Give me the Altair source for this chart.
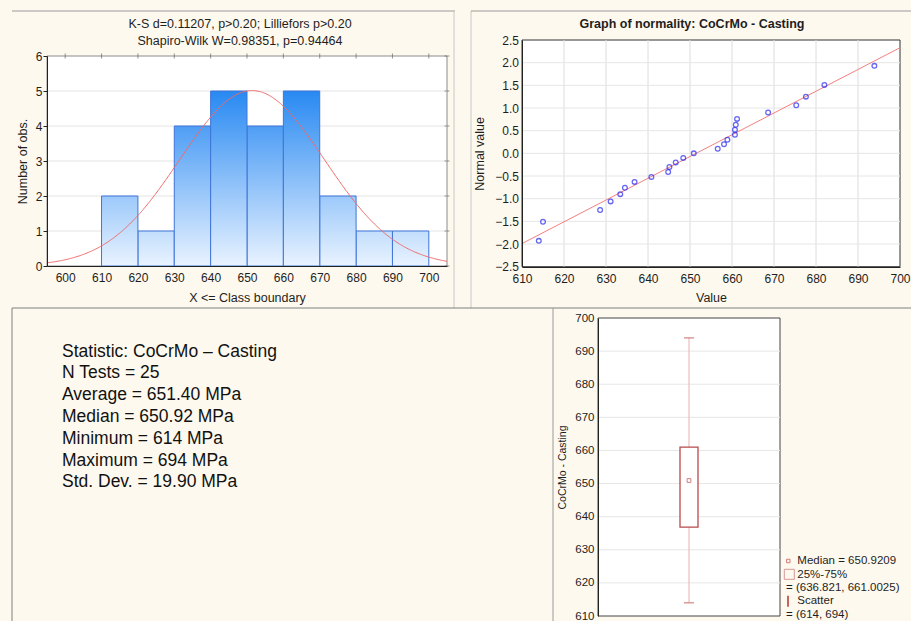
import altair as alt
import pandas as pd

FONT = "Liberation Sans"
INK = "#1e1e1e"
CREAM = "#FEF9EE"
PAGE_W, PAGE_H = 911, 621

# ---------------- data ----------------
bin_start = [610, 620, 630, 640, 650, 660, 670, 680, 690]
bin_end = [620, 630, 640, 650, 660, 670, 680, 690, 700]
bin_count = [2, 1, 4, 5, 4, 5, 2, 1, 1]
hist_x_ticks = [600, 610, 620, 630, 640, 650, 660, 670, 680, 690, 700]
hist_y_ticks = [0, 1, 2, 3, 4, 5, 6]
hist_title = ["K-S d=0.11207, p>0.20; Lilliefors p>0.20",
              "Shapiro-Wilk W=0.98351, p=0.94464"]
fit_mean = 651.40
fit_sd = 19.90
n_tests = 25
bin_width = 10

np_value = [614.0, 615.0, 628.6, 631.1, 633.4, 634.5, 636.8, 640.8, 644.8,
            645.1, 646.6, 648.4, 650.9, 656.6, 658.1, 658.9, 660.7, 660.7,
            660.9, 661.2, 668.6, 675.3, 677.6, 682.0, 693.9]
np_normal = [-1.93, -1.51, -1.25, -1.06, -0.90, -0.76, -0.63, -0.52, -0.41,
             -0.30, -0.20, -0.10, 0.0, 0.10, 0.20, 0.30, 0.41, 0.52,
             0.63, 0.76, 0.90, 1.06, 1.25, 1.51, 1.93]
np_line_x = [610, 700]
np_line_y = [-1.99, 2.33]
np_x_ticks = [610, 620, 630, 640, 650, 660, 670, 680, 690, 700]
np_y_ticks = [-2.5, -2.0, -1.5, -1.0, -0.5, 0.0, 0.5, 1.0, 1.5, 2.0, 2.5]
np_title = "Graph of normality: CoCrMo - Casting"

box_label = ["CoCrMo - Casting"]
box_median = [650.9209]
box_q1 = [636.821]
box_q3 = [661.0025]
box_min = [614]
box_max = [694]
box_y_ticks = [610, 620, 630, 640, 650, 660, 670, 680, 690, 700]

stats_lines = ["Statistic: CoCrMo \u2013 Casting", "N Tests = 25",
               "Average = 651.40 MPa", "Median = 650.92 MPa",
               "Minimum = 614 MPa", "Maximum = 694 MPa",
               "Std. Dev. = 19.90 MPa"]
legend_labels = ["Median = 650.9209", "25%-75%", "= (636.821, 661.0025)",
                 "Scatter", "= (614, 694)"]

# ---------------- layout (pixels on the page) ----------------
H_X, H_Y = (47, 447), (266, 56)        # histogram plot area
N_X, N_Y = (522, 900), (266.7, 40)     # normality plot area
B_X, B_Y = (598, 780), (616, 318)      # box plot area

one = pd.DataFrame({"k": [0]})


def prule(x, y, x2=None, y2=None, color="#9a9a9a"):
    enc = dict(x=alt.value(x), y=alt.value(y))
    if x2 is not None:
        enc["x2"] = alt.value(x2)
    if y2 is not None:
        enc["y2"] = alt.value(y2)
    return alt.Chart(one).mark_rule(color=color, strokeWidth=1).encode(**enc)


def ptext(t, x, y, size, weight="normal", align="center"):
    return alt.Chart(pd.DataFrame({"t": [t]})).mark_text(
        align=align, baseline="middle", font=FONT, fontSize=size,
        fontWeight=weight, color=INK
    ).encode(x=alt.value(x), y=alt.value(y), text="t:N")


def axis(**kw):
    base = dict(labelFont=FONT, titleFont=FONT, labelColor=INK, titleColor=INK,
                labelFontSize=12, titleFontSize=12.5, titleFontWeight="normal",
                domainColor="#222222", tickColor="#222222", grid=False,
                labelOverlap=False, labelFlush=False, labelBound=False, zindex=1)
    base.update(kw)
    return alt.Axis(**base)


# ---------------- histogram ----------------
hist_df = pd.DataFrame({"start": bin_start, "end": bin_end, "n": bin_count})
hx_scale = alt.Scale(domain=[595, 705], range=list(H_X), nice=False, zero=False)
hy_scale = alt.Scale(domain=[0, 6], range=list(H_Y), nice=False, zero=False)
hx_axis = axis(values=hist_x_ticks, title="X <= Class boundary", orient="bottom",
               offset=H_Y[0] - PAGE_H, ticks=False, labelPadding=6, titlePadding=8)
hy_axis = axis(values=hist_y_ticks, title="Number of obs.", orient="left",
               offset=-H_X[0], tickSize=4, labelPadding=1, titlePadding=6)


def hx(f=None, datum=None):
    if datum is not None:
        return alt.X(datum=datum, type="quantitative", scale=hx_scale, axis=hx_axis)
    return alt.X(f, scale=hx_scale, axis=hx_axis)


def hy(f=None, datum=None):
    if datum is not None:
        return alt.Y(datum=datum, type="quantitative", scale=hy_scale, axis=hy_axis)
    return alt.Y(f, scale=hy_scale, axis=hy_axis)


top_rgb = (40, 137, 242)
bot_rgb = (233, 243, 255)


def level_color(v):
    t = v / 5.0
    c = [round(b + (a - b) * t) for a, b in zip(top_rgb, bot_rgb)]
    return "#%02x%02x%02x" % tuple(c)


hist_bg = alt.Chart(one).mark_rect(fill="white", stroke="#8c8c8c", strokeWidth=1).encode(
    x=hx(datum=595), x2=alt.X2(datum=705), y=hy(datum=0), y2=alt.Y2(datum=6))
hist_grid = alt.Chart(pd.DataFrame({"t": hist_y_ticks[1:-1]})).mark_rule(
    color="#E4E4E4", strokeWidth=1).encode(
    x=hx(datum=595), x2=alt.X2(datum=705), y=hy("t:Q"))
hist_top_ticks = alt.Chart(pd.DataFrame({"t": hist_x_ticks})).mark_tick(
    orient="vertical", size=5, thickness=1, color="#666666").encode(
    x=hx("t:Q"), y=hy(datum=6))
hist_right_ticks = alt.Chart(pd.DataFrame({"t": hist_y_ticks})).mark_tick(
    orient="horizontal", size=5, thickness=1, color="#666666").encode(
    y=hy("t:Q"), x=hx(datum=705))

bar_layers = []
for h in sorted(set(bin_count)):
    grad = alt.Gradient(gradient="linear", x1=0, x2=0, y1=0, y2=1,
                        stops=[alt.GradientStop(color=level_color(h), offset=0),
                               alt.GradientStop(color=level_color(0), offset=1)])
    bar_layers.append(
        alt.Chart(hist_df).transform_filter(alt.datum.n == h)
        .mark_bar(fill=grad, stroke="#3f74d8", strokeWidth=1)
        .encode(x=hx("start:Q"), x2="end:Q", y=hy("n:Q"), y2=alt.Y2(datum=0))
    )

curve = (
    alt.Chart(alt.sequence(595, 705.01, 0.25, as_="xv"))
    .transform_calculate(
        yv=f"{n_tests * bin_width} / ({fit_sd} * sqrt(2 * PI)) * "
           f"exp(-0.5 * pow((datum.xv - {fit_mean}) / {fit_sd}, 2))")
    .mark_line(color="#F06A6A", strokeWidth=1)
    .encode(x=hx("xv:Q"), y=hy("yv:Q"))
)

hist = alt.layer(hist_bg, hist_grid, hist_top_ticks, hist_right_ticks,
                 *bar_layers, curve)

# ---------------- normal probability plot ----------------
nx_scale = alt.Scale(domain=[610, 700], range=list(N_X), nice=False, zero=False)
ny_scale = alt.Scale(domain=[-2.5, 2.5], range=list(N_Y), nice=False, zero=False)
nx_axis = axis(values=np_x_ticks, title="Value", orient="bottom",
               offset=round(N_Y[0] - PAGE_H), ticks=False, labelPadding=6, titlePadding=7)
ny_axis = axis(values=np_y_ticks, title="Normal value", orient="left",
               offset=-N_X[0], ticks=False, format=".1f", labelPadding=3.5,
               titlePadding=8)


def nx(f=None, datum=None):
    if datum is not None:
        return alt.X(datum=datum, type="quantitative", scale=nx_scale, axis=nx_axis)
    return alt.X(f, scale=nx_scale, axis=nx_axis)


def ny(f=None, datum=None):
    if datum is not None:
        return alt.Y(datum=datum, type="quantitative", scale=ny_scale, axis=ny_axis)
    return alt.Y(f, scale=ny_scale, axis=ny_axis)


np_df = pd.DataFrame({"v": np_value, "z": np_normal})
line_df = pd.DataFrame({"v": np_line_x, "z": np_line_y})

n_bg = alt.Chart(one).mark_rect(fill="white", stroke="#333333", strokeWidth=1).encode(
    x=nx(datum=610), x2=alt.X2(datum=700), y=ny(datum=-2.5), y2=alt.Y2(datum=2.5))
n_vgrid = alt.Chart(pd.DataFrame({"t": np_x_ticks[1:-1]})).mark_rule(
    color="#DCDCDC").encode(x=nx("t:Q"), y=ny(datum=-2.5), y2=alt.Y2(datum=2.5))
n_hgrid = alt.Chart(pd.DataFrame({"t": np_y_ticks[1:-1]})).mark_rule(
    color="#E6E6E6").encode(y=ny("t:Q"), x=nx(datum=610), x2=alt.X2(datum=700))
np_line = alt.Chart(line_df).mark_line(color="#F48080", strokeWidth=1).encode(
    x=nx("v:Q"), y=ny("z:Q"))
np_pts = alt.Chart(np_df).mark_point(shape="circle", filled=False, size=22,
                                     color="#2626F2", strokeWidth=1.3).encode(
    x=nx("v:Q"), y=ny("z:Q"))

normplot = alt.layer(n_bg, n_vgrid, n_hgrid, np_line, np_pts)

# ---------------- statistics text ----------------
stats_df = pd.DataFrame({"i": list(range(len(stats_lines))), "line": stats_lines})
stats = alt.Chart(stats_df).mark_text(
    align="left", baseline="middle", font=FONT, fontSize=17.5, color="#111111"
).encode(
    x=alt.value(62),
    y=alt.Y("i:Q", scale=alt.Scale(domain=[0, 6], range=[351.7, 482.3]), axis=None),
    text="line:N",
)

# ---------------- box plot ----------------
box_df = pd.DataFrame({"var": box_label, "med": box_median, "q1": box_q1,
                       "q3": box_q3, "lo": box_min, "hi": box_max})
bx_scale = alt.Scale(range=list(B_X), paddingInner=0, paddingOuter=0)
by_scale = alt.Scale(domain=[610, 700], range=list(B_Y), nice=False, zero=False)
by_axis = axis(values=box_y_ticks, title="CoCrMo - Casting", orient="left",
               offset=-B_X[0], ticks=False, labelFontSize=11.5, titleFontSize=10.5,
               labelPadding=4, titlePadding=7)


def bx():
    return alt.X("var:N", scale=bx_scale, axis=None)


def by(f=None, datum=None):
    if datum is not None:
        return alt.Y(datum=datum, type="quantitative", scale=by_scale, axis=by_axis)
    return alt.Y(f, scale=by_scale, axis=by_axis)


b_bg = alt.Chart(box_df).mark_bar(fill="white", stroke="#444444", strokeWidth=1).encode(
    x=bx(), y=by(datum=610), y2=alt.Y2(datum=700))
b_grid = alt.Chart(pd.DataFrame({"t": box_y_ticks[1:-1]})).mark_rule(
    color="#E6E6E6").encode(y=by("t:Q"), x=alt.value(B_X[0]), x2=alt.value(B_X[1]))
whisker = alt.Chart(box_df).mark_rule(color="#EDBCBC", strokeWidth=1.2).encode(
    x=bx(), y=by("lo:Q"), y2="hi:Q")
boxrect = alt.Chart(box_df).mark_bar(size=18, fill="white", stroke="#B84A4A",
                                     strokeWidth=1.3).encode(
    x=bx(), y=by("q1:Q"), y2="q3:Q")
cap_lo = alt.Chart(box_df).mark_tick(orient="horizontal", size=10, thickness=1.6,
                                     color="#D07878").encode(x=bx(), y=by("lo:Q"))
cap_hi = alt.Chart(box_df).mark_tick(orient="horizontal", size=10, thickness=1.6,
                                     color="#D07878").encode(x=bx(), y=by("hi:Q"))
med_pt = alt.Chart(box_df).mark_point(shape="square", size=14, filled=False,
                                      color="#C04848", strokeWidth=1).encode(
    x=bx(), y=by("med:Q"))

boxplot = alt.layer(b_bg, b_grid, whisker, boxrect, cap_lo, cap_hi, med_pt)

# ---------------- legend, titles, panel borders ----------------
leg_pos = [(797.3, 561), (797.3, 575), (786, 587.5), (797.3, 601), (786, 614.5)]
leg_layers = [ptext(lab, lx, ly, 11.5, align="left")
              for lab, (lx, ly) in zip(legend_labels, leg_pos)]
leg_med = alt.Chart(one).mark_point(shape="square", size=12, filled=False,
                                    color="#C04848", strokeWidth=1).encode(
    x=alt.value(788.3), y=alt.value(561))
leg_box = alt.Chart(one).mark_point(shape="square", size=100, filled=False,
                                    color="#C87070", strokeWidth=1).encode(
    x=alt.value(789.3), y=alt.value(574.3))
leg_sc = alt.Chart(one).mark_rule(color="#B03030", strokeWidth=1.5).encode(
    x=alt.value(788), y=alt.value(595.7), y2=alt.value(606.7))

titles = [ptext(hist_title[0], 240, 24.3, 12.5),
          ptext(hist_title[1], 240, 40.7, 12.5),
          ptext(np_title, 692, 24.3, 12.5, weight="bold")]

borders = [
    prule(12, 11, x2=455, color="#9a9a9a"),
    prule(454, 11, y2=308, color="#c8c8c8"),
    prule(471, 11, y2=308, color="#c8c8c8"),
    prule(471, 11, x2=911, color="#9a9a9a"),
    prule(12, 308, x2=911, color="#808080"),
    prule(12, 308, y2=621, color="#808080"),
    prule(553, 308, y2=621, color="#9a9a9a"),
]

chart = alt.layer(
    *borders, hist, normplot, stats, boxplot,
    *titles, *leg_layers, leg_med, leg_box, leg_sc,
).resolve_scale(x="independent", y="independent").resolve_axis(
    x="independent", y="independent"
).properties(
    width=PAGE_W, height=PAGE_H, padding=0,
    autosize=alt.AutoSizeParams(type="none"),
    background=CREAM,
).configure(font=FONT).configure_view(stroke=None)

chart.save("out.html", embed_options={"renderer": "svg", "actions": False})
